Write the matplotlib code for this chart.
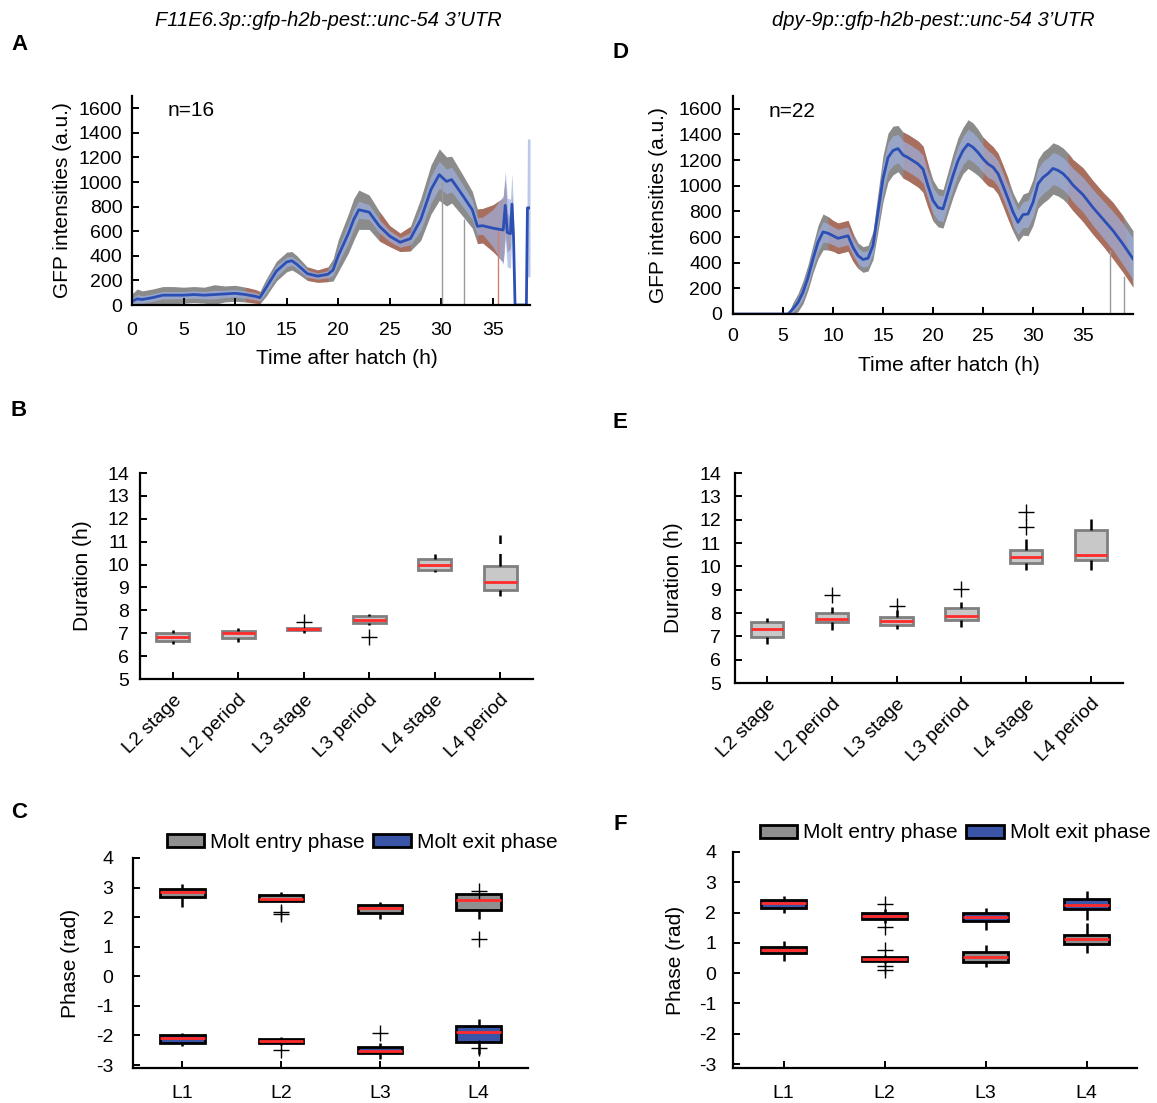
import numpy as np
import matplotlib
matplotlib.use('Agg')
import matplotlib.pyplot as plt
from matplotlib.patches import Patch

plt.rcParams['font.family'] = ['Liberation Sans', 'DejaVu Sans']
plt.rcParams['axes.unicode_minus'] = False

# ---- panel A: F11E6.3p reporter traces ----
t_a = [0, 0.5, 1, 2, 3, 4, 5, 6, 7, 8, 9, 10, 11, 12, 12.4, 13, 14, 15, 15.5, 16, 17, 18, 19, 19.5,
       20, 21, 21.5, 22, 23, 24, 25, 26, 27, 28, 29, 29.8, 30.5, 31, 32, 33, 33.5, 34, 35, 36,
       36.2, 36.4, 36.7, 36.85, 37.0, 37.15, 38.25, 38.35, 38.6]
mean_a = [30, 50, 45, 60, 80, 80, 80, 85, 80, 85, 90, 95, 85, 70, 60, 140, 275, 350, 360, 330, 255, 235, 250, 285,
          400, 585, 695, 775, 755, 640, 560, 510, 540, 695, 940, 1060, 1005, 1020, 900, 775, 640, 645, 625, 610,
          810, 590, 580, 820, 560, 0, 0, 790, 790]
spread_a = [60, 80, 70, 70, 70, 70, 65, 65, 65, 80, 65, 65, 60, 55, 50, 70, 80, 80, 75, 70, 55, 50, 60, 90,
            130, 160, 170, 160, 140, 120, 85, 75, 100, 170, 200, 210, 200, 190, 170, 150, 140, 140, 190, 260,
            210, 160, 120, 80, 60, 0, 0, 0, 0]
sd_a = [25, 35, 30, 30, 30, 30, 30, 30, 30, 35, 30, 30, 30, 30, 25, 40, 45, 40, 35, 35, 30, 25, 30, 45,
        60, 80, 80, 70, 60, 55, 45, 40, 50, 90, 110, 110, 100, 100, 90, 80, 70, 70, 150, 280,
        280, 280, 280, 250, 200, 0, 0, 560, 560]
molt_a = [(10.5, 12.7), (17.0, 19.3), (24.0, 27.2), (33.5, 36.6)]
drop_t_a = [30.05, 32.2, 35.5]
drop_top_a = [1000, 700, 600]
drop_col_a = ['#9a9a9a', '#9a9a9a', '#d08070']

# ---- panel D: dpy-9p reporter traces ----
t_d = [0, 5.5, 6, 6.5, 7, 7.5, 8, 8.5, 9, 9.5, 10, 10.5, 11, 11.5, 12, 12.5, 13, 13.5, 14, 14.5, 15,
       15.5, 16, 16.5, 17, 17.5, 18, 18.5, 19, 19.5, 20, 20.5, 21, 21.5, 22, 22.5, 23, 23.5, 24, 24.5,
       25, 25.5, 26, 26.5, 27, 27.5, 28, 28.5, 29, 29.5, 30, 30.5, 31, 31.5, 32, 32.5, 33, 33.5, 34,
       35, 36, 37, 38, 39, 40]
mean_d = [0, 0, 40, 90, 170, 285, 430, 560, 640, 630, 610, 590, 600, 610, 520, 455, 425, 435, 535, 795, 1055,
          1220, 1275, 1290, 1240, 1220, 1195, 1170, 1130, 1000, 885, 830, 820, 950, 1080, 1195, 1275, 1325, 1300, 1260,
          1210, 1170, 1145, 1095, 1000, 900, 795, 715, 775, 780, 870, 1015, 1065, 1095, 1135, 1120, 1095, 1055, 1005,
          930, 830, 740, 650, 545, 430]
spread_d = [0, 0, 50, 70, 90, 100, 110, 130, 140, 130, 120, 120, 120, 120, 110, 100, 100, 100, 110, 150, 180,
            190, 190, 180, 180, 180, 180, 180, 180, 170, 160, 150, 150, 160, 170, 180, 180, 190, 190, 180,
            170, 170, 160, 160, 160, 160, 150, 150, 160, 170, 180, 190, 200, 200, 200, 200, 200, 200, 200,
            210, 210, 210, 220, 220, 220]
sd_d = [0, 0, 25, 40, 50, 60, 70, 80, 80, 75, 70, 70, 70, 70, 65, 60, 60, 60, 65, 95, 115,
        115, 115, 110, 110, 110, 110, 110, 110, 105, 100, 100, 100, 100, 105, 110, 110, 115, 115, 110,
        105, 105, 100, 100, 100, 100, 100, 95, 100, 105, 110, 120, 125, 125, 125, 125, 125, 125, 130,
        135, 140, 145, 150, 160, 160]
molt_d = [(9.4, 12.1), (16.7, 19.7), (24.7, 27.7), (33.3, 39.3)]
drop_t_d = [37.65, 39.1]
drop_top_d = [500, 300]
drop_col_d = ['#9a9a9a', '#9a9a9a']

# ---- panels B / E: stage and period durations (h) ----
dur_labels = ['L2 stage', 'L2 period', 'L3 stage', 'L3 period', 'L4 stage', 'L4 period']
b_med = [6.83, 7.02, 7.18, 7.57, 9.99, 9.22]
b_q1 = [6.66, 6.80, 7.12, 7.43, 9.78, 8.88]
b_q3 = [7.02, 7.09, 7.24, 7.76, 10.23, 9.94]
b_lo = [6.51, 6.63, 7.02, 7.38, 9.67, 8.63]
b_hi = [7.14, 7.24, 7.24, 7.86, 10.48, 11.3]
b_fl = [[], [], [7.50], [6.85], [], []]

e_med = [7.31, 7.74, 7.64, 7.89, 10.41, 10.50]
e_q1 = [6.97, 7.60, 7.47, 7.69, 10.16, 10.26]
e_q3 = [7.61, 8.00, 7.83, 8.20, 10.69, 11.54]
e_lo = [6.69, 7.29, 7.33, 7.40, 9.86, 9.83]
e_hi = [7.79, 8.26, 8.11, 8.47, 11.19, 12.04]
e_fl = [[], [8.77], [8.31], [9.04], [11.69, 12.33], []]

# ---- panels C / F: molt entry / exit phases (rad) ----
larvae = ['L1', 'L2', 'L3', 'L4']
c_en_med = [2.85, 2.62, 2.30, 2.57]
c_en_q1 = [2.67, 2.53, 2.14, 2.23]
c_en_q3 = [2.96, 2.75, 2.41, 2.77]
c_en_lo = [2.36, 2.50, 1.93, 1.93]
c_en_hi = [3.12, 2.85, 2.51, 2.77]
c_en_fl = [[], [2.16, 2.10], [], [2.87, 1.27]]
c_ex_med = [-2.10, -2.19, -2.51, -1.89]
c_ex_q1 = [-2.27, -2.27, -2.60, -2.23]
c_ex_q3 = [-1.98, -2.11, -2.40, -1.67]
c_ex_lo = [-2.35, -2.32, -2.80, -2.62]
c_ex_hi = [-1.90, -2.06, -2.24, -1.44]
c_ex_fl = [[], [-2.49], [-1.90], [-2.42]]

f_en_med = [0.77, 0.47, 0.52, 1.13]
f_en_q1 = [0.65, 0.40, 0.37, 0.95]
f_en_q3 = [0.88, 0.54, 0.70, 1.26]
f_en_lo = [0.41, 0.32, 0.19, 0.65]
f_en_hi = [1.06, 0.61, 0.92, 1.65]
f_en_fl = [[], [0.77, 0.24, 0.09], [], []]
f_ex_med = [2.32, 1.89, 1.86, 2.24]
f_ex_q1 = [2.16, 1.78, 1.72, 2.11]
f_ex_q3 = [2.41, 2.00, 2.00, 2.45]
f_ex_lo = [1.98, 1.67, 1.44, 1.76]
f_ex_hi = [2.54, 2.13, 2.14, 2.70]
f_ex_fl = [[], [2.30, 1.53], [], []]

GRAY_TR = '#3e3e3e'
RED_TR = '#c0583a'
BAND = '#9fb1e0'
MEAN = '#2b4fb5'
ENTRY = '#8f8f8f'
EXIT = '#3a55a8'
MEDRED = '#ff2a2a'

fig = plt.figure(figsize=(11.57, 11.03), dpi=100)
W, H = 1157.0, 1103.0


def add_ax(l, t, r, b):
    return fig.add_axes([l / W, 1 - b / H, (r - l) / W, (b - t) / H])


def style_axes(ax, xpad, ypad):
    for s in ['top', 'right']:
        ax.spines[s].set_visible(False)
    for s in ['left', 'bottom']:
        ax.spines[s].set_linewidth(1.6)
    ax.tick_params(direction='in', length=5, width=1.4, labelsize=14)
    ax.tick_params(axis='x', pad=xpad)
    ax.tick_params(axis='y', pad=ypad)


def place_ylabel(ax, x_px, left, right):
    # label anchor is the right edge of the rotated text, ~10 px right of its centre
    ax.yaxis.set_label_coords((x_px + 10 - left) / (right - left), 0.5)


def trace_panel(ax, t, mean, spread, sd, molts, dt, dtop, dcol, xlim, n_text):
    t = np.array(t, float)
    m = np.array(mean, float)
    sp = np.array(spread, float)
    s = np.array(sd, float)
    ax.fill_between(t, m - sp, m + sp, color=GRAY_TR, alpha=0.6, lw=0)
    for a, b in molts:
        w = (t >= a) & (t <= b)
        ax.fill_between(t, m - sp, m + sp, where=w, color=RED_TR, alpha=0.55, lw=0, interpolate=True)
    ax.vlines(dt, 0, dtop, colors=dcol, lw=1.0)
    ax.fill_between(t, m - s, m + s, color=BAND, alpha=0.7, lw=0)
    ax.plot(t, m, color=MEAN, lw=2)
    ax.set_xlim(*xlim)
    ax.set_ylim(0, 1700)
    ax.set_yticks(range(0, 1601, 200))
    ax.set_xticks(range(0, 36, 5))
    ax.set_xlabel('Time after hatch (h)', fontsize=15)
    ax.set_ylabel('GFP intensities (a.u.)', fontsize=15)
    ax.text(0.09, 0.93, n_text, transform=ax.transAxes, fontsize=15, va='center')


def make_stats(med, q1, q3, lo, hi, fl):
    return [dict(med=med[i], q1=q1[i], q3=q3[i], whislo=lo[i], whishi=hi[i], fliers=fl[i])
            for i in range(len(med))]


def draw_boxes(ax, stats, pos, width, face, edge, elw):
    ax.bxp(stats, positions=pos, widths=width, patch_artist=True, showcaps=False,
           boxprops=dict(facecolor=face, edgecolor=edge, linewidth=elw),
           medianprops=dict(color=MEDRED, linewidth=2),
           whiskerprops=dict(color='black', linewidth=1.8, linestyle=(0, (5, 4))),
           flierprops=dict(marker='+', markeredgecolor='black', markersize=11, markeredgewidth=1.0))


axA = add_ax(132, 96, 530, 305)
axD = add_ax(733, 96, 1133, 314)
axB = add_ax(140, 473, 533, 679)
axE = add_ax(735, 473, 1123, 683)
axC = add_ax(133, 858, 528, 1068)
axF = add_ax(733, 852, 1137, 1068)

trace_panel(axA, t_a, mean_a, spread_a, sd_a, molt_a, drop_t_a, drop_top_a, drop_col_a, (0, 38.6), 'n=16')
trace_panel(axD, t_d, mean_d, spread_d, sd_d, molt_d, drop_t_d, drop_top_d, drop_col_d, (0, 40), 'n=22')
style_axes(axA, 12, 7)
style_axes(axD, 10, 8)
place_ylabel(axA, 62, 132, 530)
place_ylabel(axD, 658, 733, 1133)
axA.xaxis.set_label_coords(0.54, (305 - 349) / 209.0)
axD.xaxis.set_label_coords(0.54, (314 - 356) / 218.0)

for ax, st, ypad in [(axB, make_stats(b_med, b_q1, b_q3, b_lo, b_hi, b_fl), 8),
                     (axE, make_stats(e_med, e_q1, e_q3, e_lo, e_hi, e_fl), 10)]:
    draw_boxes(ax, st, range(1, 7), 0.5, '#c8c8c8', '#7f7f7f', 2)
    ax.set_xlim(0.5, 6.5)
    ax.set_ylim(5, 14)
    ax.set_yticks(range(5, 15))
    ax.set_xticks(range(1, 7))
    ax.set_xticklabels(dur_labels, rotation=45, ha='right', rotation_mode='anchor')
    ax.set_ylabel('Duration (h)', fontsize=15)
    style_axes(ax, 9, ypad)
place_ylabel(axB, 82, 140, 533)
place_ylabel(axE, 673, 735, 1123)

for ax, en, ex, yb, ly, ypad in [
        (axC, make_stats(c_en_med, c_en_q1, c_en_q3, c_en_lo, c_en_hi, c_en_fl),
         make_stats(c_ex_med, c_ex_q1, c_ex_q3, c_ex_lo, c_ex_hi, c_ex_fl), -3.1, (0.58, 1.075), 14),
        (axF, make_stats(f_en_med, f_en_q1, f_en_q3, f_en_lo, f_en_hi, f_en_fl),
         make_stats(f_ex_med, f_ex_q1, f_ex_q3, f_ex_lo, f_ex_hi, f_ex_fl), -3.13, (0.55, 1.088), 12)]:
    draw_boxes(ax, en, range(1, 5), 0.45, ENTRY, 'black', 2)
    draw_boxes(ax, ex, range(1, 5), 0.45, EXIT, 'black', 2)
    ax.set_xlim(0.5, 4.5)
    ax.set_ylim(yb, 4)
    ax.set_yticks(range(-3, 5))
    ax.set_xticks(range(1, 5))
    ax.set_xticklabels(larvae)
    ax.set_ylabel('Phase (rad)', fontsize=15)
    style_axes(ax, 12, ypad)
    handles = [Patch(facecolor=ENTRY, edgecolor='black', lw=2, label='Molt entry phase'),
               Patch(facecolor=EXIT, edgecolor='black', lw=2, label='Molt exit phase')]
    ax.legend(handles=handles, loc='center', bbox_to_anchor=ly, ncol=2, frameon=False, fontsize=15,
              handlelength=1.8, handleheight=0.6, handletextpad=0.3, columnspacing=0.4, borderaxespad=0)
place_ylabel(axC, 70, 133, 528)
place_ylabel(axF, 675, 733, 1137)

fig.text(328 / W, 1 - 20 / H, 'F11E6.3p::gfp-h2b-pest::unc-54 3\u2019UTR', style='italic',
         fontsize=14.5, ha='center', va='center')
fig.text(933 / W, 1 - 20 / H, 'dpy-9p::gfp-h2b-pest::unc-54 3\u2019UTR', style='italic',
         fontsize=14.5, ha='center', va='center')

for lab, x, y in [('A', 19, 45), ('D', 620, 52), ('B', 19, 410), ('E', 620, 422), ('C', 19, 813), ('F', 620, 825)]:
    fig.text(x / W, 1 - y / H, lab, fontsize=16, fontweight='bold', ha='center', va='center')

fig.savefig('out.png', dpi=100)
